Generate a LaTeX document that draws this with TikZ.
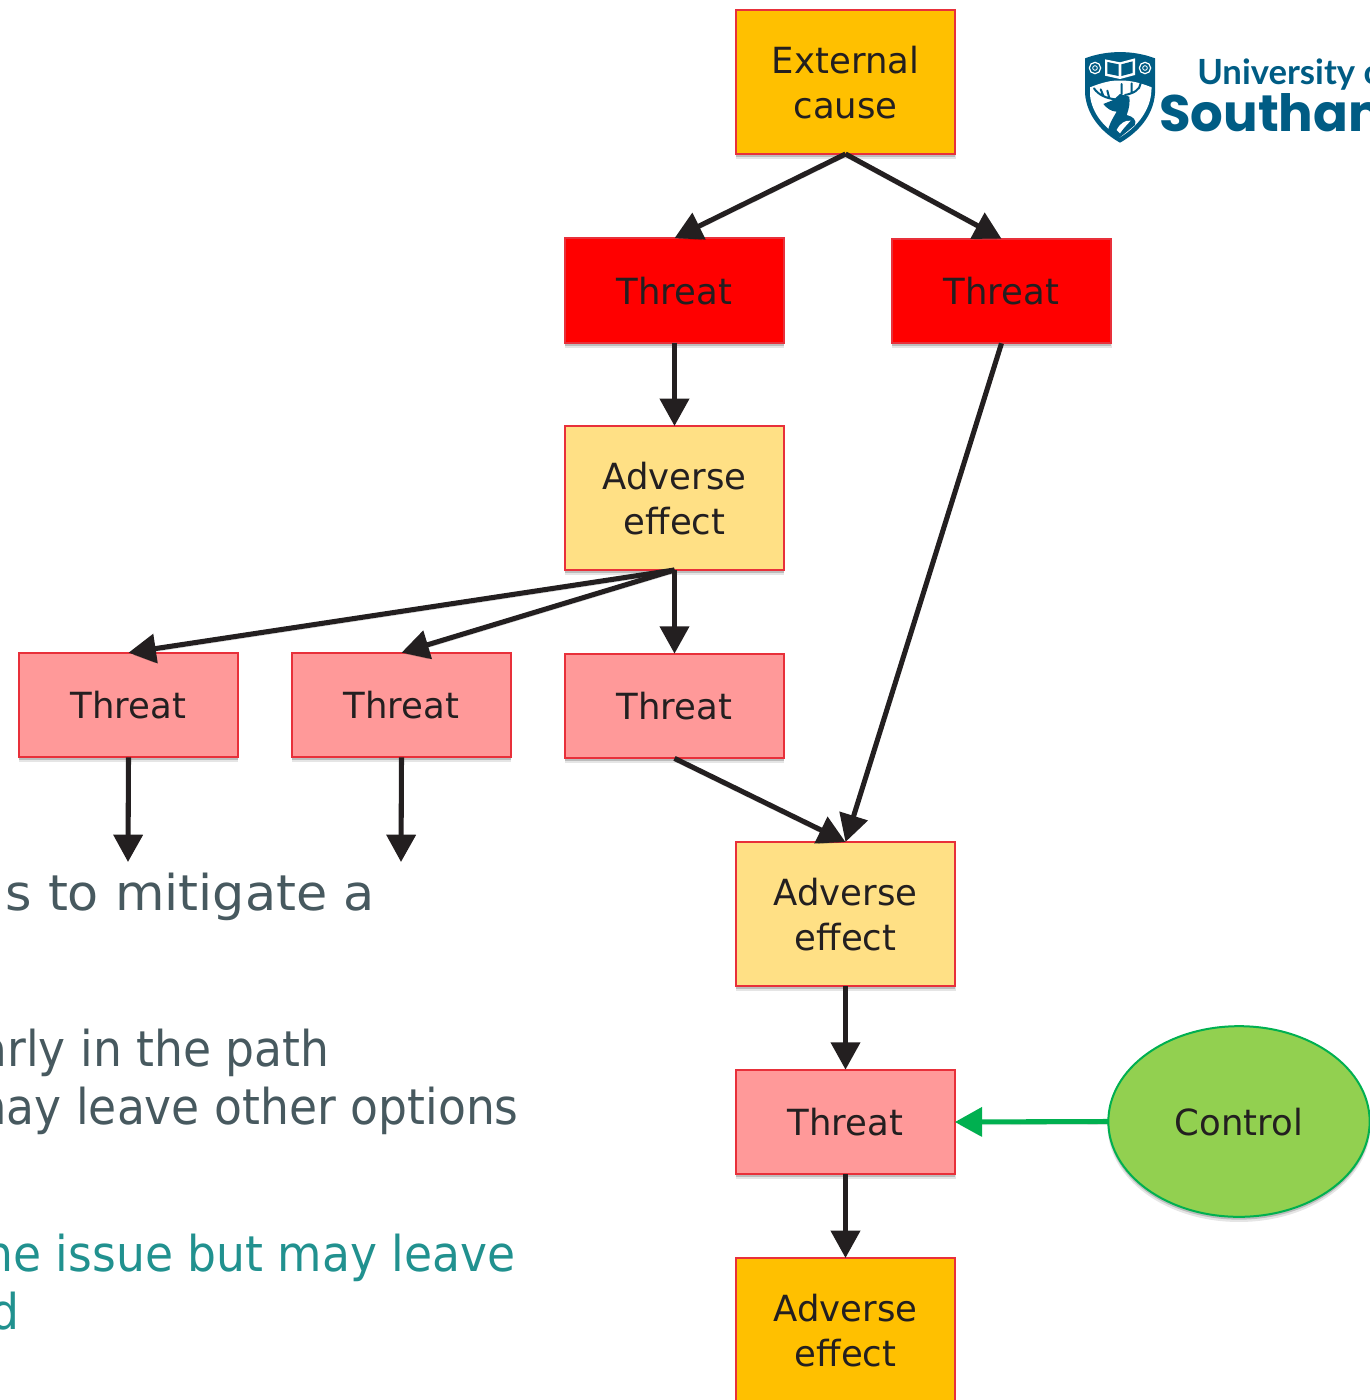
\documentclass[tikz,border=0pt]{standalone}
\usepackage{fontspec}
\setmainfont[FakeStretch=0.985]{DejaVu Sans}
\newfontfamily\slidewide[FakeStretch=1.03]{DejaVu Sans}
\newfontfamily\slidenarrow[FakeStretch=0.925]{DejaVu Sans}
\newfontfamily\logofont{Lato}
\newfontfamily\logobig{Poppins}
\usetikzlibrary{arrows.meta,shapes.geometric,shadows}
\definecolor{ink}{HTML}{231F20}
\definecolor{edgered}{HTML}{E8303A}
\definecolor{orangefill}{HTML}{FFC000}
\definecolor{sandfill}{HTML}{FFE085}
\definecolor{pinkfill}{HTML}{FF9999}
\definecolor{slate}{HTML}{47595F}
\definecolor{teal}{HTML}{21918F}
\definecolor{uos}{HTML}{005C84}
\definecolor{ctlgreen}{HTML}{00B050}
\definecolor{ctlfill}{HTML}{92D050}
\tikzset{
  softshadow/.style={
    general shadow={shadow xshift=0pt,shadow yshift=-3.4pt,shadow scale=1.006,opacity=.10,fill=black},
    general shadow={shadow xshift=0pt,shadow yshift=-1.9pt,shadow scale=1.003,opacity=.18,fill=black}},
  box/.style={rectangle,draw=edgered,line width=1.5pt,text=ink,outer sep=0pt,inner sep=0pt,text depth=-2.2pt,
    minimum width=164pt,align=center,font=\fontsize{27}{33.75}\selectfont,softshadow},
  tallbox/.style={box,minimum height=108pt},
  lowbox/.style={box,minimum height=78.5pt},
  cause/.style={tallbox,fill=orangefill},
  effect/.style={tallbox,fill=sandfill},
  outcome/.style={tallbox,fill=orangefill},
  hotthreat/.style={lowbox,fill=red},
  threat/.style={lowbox,fill=pinkfill},
  control/.style={ellipse,draw=ctlgreen,line width=1.5pt,fill=ctlfill,text=ink,outer sep=0pt,inner sep=0pt,text depth=-2.2pt,
    minimum width=196pt,minimum height=143pt,font=\fontsize{27}{33.75}\selectfont,softshadow},
  link/.style={draw=ink,line width=3.8pt,-{Triangle[length=20.5pt,width=21.5pt,fill=ink]},
    preaction={draw=black,opacity=.16,transform canvas={yshift=-2.2pt}}},
  stop/.style={draw=ctlgreen,line width=3.8pt,-{Triangle[length=20.5pt,width=21.5pt,fill=ctlgreen]},
    preaction={draw=black,opacity=.12,transform canvas={yshift=-2.2pt}}},
  slide/.style={anchor=base east,inner sep=0pt},
}
\begin{document}
\begin{tikzpicture}[x=0.75pt,y=-0.75pt]
\useasboundingbox (0,0) rectangle (1370,1400);
\begin{scope}
\clip (0,0) rectangle (1370,1400);
% slide text behind the diagram
\node[slide,text=slate,font=\slidewide\fontsize{37}{44}\selectfont] (t1) at (375,910) {s to mitigate a};
\node[slide,text=slate,font=\slidenarrow\fontsize{37}{44}\selectfont] (t2) at (330,1066) {arly in the path};
\node[slide,text=slate,font=\slidenarrow\fontsize{37}{44}\selectfont] (t3) at (519,1124) {may leave other options};
\node[slide,text=teal,font=\slidenarrow\fontsize{37}{44}\selectfont] (t4) at (516,1271) {the issue but may leave};
\node[slide,text=teal,font=\slidenarrow\fontsize{37}{44}\selectfont] (t5) at (20,1329) {d};
% nodes
\node[cause] (ext) at (845.5,82) {External\\cause};
\node[hotthreat] (tha) at (674.5,290.5) {Threat};
\node[hotthreat] (thb) at (1001.5,291) {Threat};
\node[effect] (ada) at (674.5,498) {Adverse\\effect};
\node[threat] (thc) at (128.5,705) {Threat};
\node[threat] (thd) at (401.5,705) {Threat};
\node[threat] (the) at (674.5,706) {Threat};
\node[effect] (adb) at (845.5,914) {Adverse\\effect};
\node[threat] (thf) at (845.5,1122) {Threat};
\node[control] (ctl) at (1239,1121.5) {Control};
\node[outcome] (adc) at (845.5,1330) {Adverse\\effect};
\coordinate (endc) at (128,862);
\coordinate (endd) at (401,862);
% connectors
\draw[link] (ext.south) -- (tha.north);
\draw[link] (ext.south) -- (thb.north);
\draw[link] (tha.south) -- (ada.north);
\draw[link] (ada.south) -- (thc.north);
\draw[link] (ada.south) -- (thd.north);
\draw[link] (ada.south) -- (the.north);
\draw[link] (thc.south) -- (endc);
\draw[link] (thd.south) -- (endd);
\draw[link] (the.south) -- (adb.north);
\draw[link] (thb.south) -- (adb.north);
\draw[link] (adb.south) -- (thf.north);
\draw[link] (thf.south) -- (adc.north);
\draw[stop] (ctl.west) -- (thf.east);
% logo
\node[anchor=base west,inner sep=0pt,text=uos,font=\logofont\bfseries\fontsize{26}{26}\selectfont] (lg1) at (1197,84) {University of};
\node[anchor=base west,inner sep=0pt,text=uos,font=\logobig\bfseries\fontsize{38.5}{40}\selectfont] (lg2) at (1159,131.5) {Southampton};
\begin{scope}[shift={(1070,30)},x=0.25pt,y=-0.25pt]
\fill[uos] (45,85) .. controls (110,60) and (190,60) .. (255,85) -- (255,190)
  .. controls (250,260) and (200,310) .. (150,338)
  .. controls (100,310) and (50,260) .. (45,190) -- cycle;
\fill[white] (60,172) .. controls (95,158) and (125,150) .. (150,152)
  .. controls (180,150) and (215,160) .. (245,172) -- (243,195)
  .. controls (235,250) and (195,295) .. (150,322)
  .. controls (105,295) and (65,250) .. (60,195) -- cycle;
% book
\fill[white] (105,88) -- (150,97) -- (195,85) -- (195,135) -- (150,147) -- (105,137) -- cycle;
\fill[uos] (112,96) -- (146,103) -- (146,138) -- (112,131) -- cycle;
\fill[uos] (188,94) -- (154,103) -- (154,138) -- (188,129) -- cycle;
% roses
\draw[white,line width=.9pt] (75,114) circle (17);
\draw[white,line width=.6pt] (75,114) circle (7);
\draw[white,line width=.9pt] (225,114) circle (17);
\draw[white,line width=.6pt] (225,114) circle (7);
% stag
\fill[uos] (112,308) .. controls (118,280) and (130,262) .. (140,245)
  .. controls (125,245) and (110,235) .. (100,222)
  -- (130,210) -- (150,192) -- (178,200) .. controls (180,215) and (178,235) .. (170,255)
  .. controls (190,260) and (200,270) .. (195,285) -- (150,322) -- cycle;
\fill[white] (140,300) .. controls (150,280) and (165,270) .. (182,272) .. controls (170,285) and (160,295) .. (150,310) -- cycle;
\draw[uos,line width=1.5pt,line cap=round] (135,208) .. controls (110,205) and (85,195) .. (72,175)
  (100,197) -- (92,178) (118,205) -- (112,182)
  (165,195) .. controls (190,190) and (210,180) .. (212,160)
  (155,192) -- (155,162) (185,188) -- (185,160) ;
\end{scope}
\end{scope}
\end{tikzpicture}
\end{document}
